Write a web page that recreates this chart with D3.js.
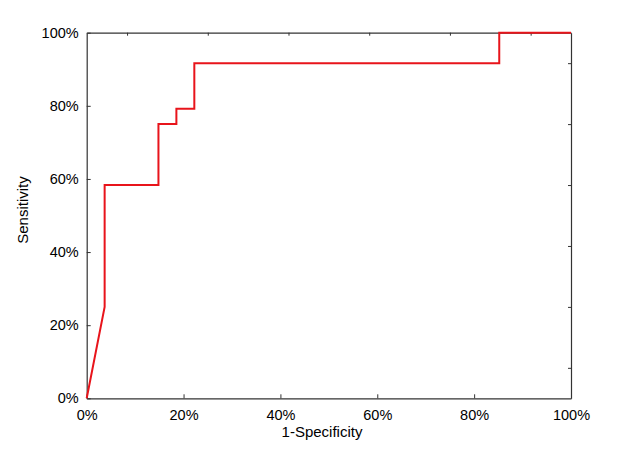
<!DOCTYPE html>
<html><head><meta charset="utf-8">
<script src="https://cdn.jsdelivr.net/npm/d3@7"></script>
<style>body{margin:0;background:#fff}svg text{font-family:"Liberation Sans",Arial,sans-serif;fill:#000}</style>
</head><body><svg id="c" width="617" height="462"></svg>
<script>
// ROC curve points (1-Specificity, Sensitivity) as fractions
const fpr = [0, 1/27, 1/27, 4/27, 4/27, 5/27, 5/27, 6/27, 6/27, 23/27, 23/27, 1];
const tpr = [0, 6/24, 14/24, 14/24, 18/24, 18/24, 19/24, 19/24, 22/24, 22/24, 1, 1];
const tickValues = [0, 0.2, 0.4, 0.6, 0.8, 1];
const minorTicks = [1/12, 3/12, 5/12, 7/12, 9/12, 11/12];
const xTitle = "1-Specificity";
const yTitle = "Sensitivity";

const svg = d3.select("#c");
const L = 86.7, R = 571, T = 32.7, B = 398.3;
const x = d3.scaleLinear().domain([0,1]).range([L,R]);
const y = d3.scaleLinear().domain([0,1]).range([B,T]);
const fmt = d => Math.round(d*100) + "%";
const frame = "#333";

// bottom axis
const gx = svg.append("g").attr("transform",`translate(0,${B})`)
  .call(d3.axisBottom(x).tickValues(tickValues).tickFormat(fmt).tickSizeInner(-4).tickSizeOuter(0).tickPadding(14));
// left axis
const gy = svg.append("g").attr("transform",`translate(${L},0)`)
  .call(d3.axisLeft(y).tickValues(tickValues).tickFormat(fmt).tickSizeInner(-4).tickSizeOuter(0).tickPadding(8));
// top axis
const gt = svg.append("g").attr("transform",`translate(0,${T})`)
  .call(d3.axisTop(x).tickValues(minorTicks).tickFormat("").tickSizeInner(-3).tickSizeOuter(0));
// right axis
const gr = svg.append("g").attr("transform",`translate(${R},0)`)
  .call(d3.axisRight(y).tickValues(minorTicks).tickFormat("").tickSizeInner(-3).tickSizeOuter(0));

[gx,gy,gt,gr].forEach(g=>{
  g.select(".domain").attr("stroke",frame).attr("stroke-width",1.2);
  g.selectAll(".tick line").attr("stroke",frame);
  g.selectAll(".tick text").attr("font-size",14.5).attr("font-family","Liberation Sans, Arial, sans-serif").attr("fill","#000");
});
gx.selectAll(".tick text").attr("dy","0.55em");

// curve
const line = d3.line().x(d=>x(d[0])).y(d=>y(d[1]));
svg.append("path").datum(fpr.map((v,i)=>[v,tpr[i]]))
  .attr("d",line).attr("fill","none").attr("stroke","#e8141b").attr("stroke-width",2);

// titles
svg.append("text").attr("x",322).attr("y",437).attr("text-anchor","middle").attr("font-size",15).text(xTitle);
svg.append("text").attr("transform","translate(28,210) rotate(-90)").attr("text-anchor","middle").attr("font-size",15).text(yTitle);
</script></body></html>
